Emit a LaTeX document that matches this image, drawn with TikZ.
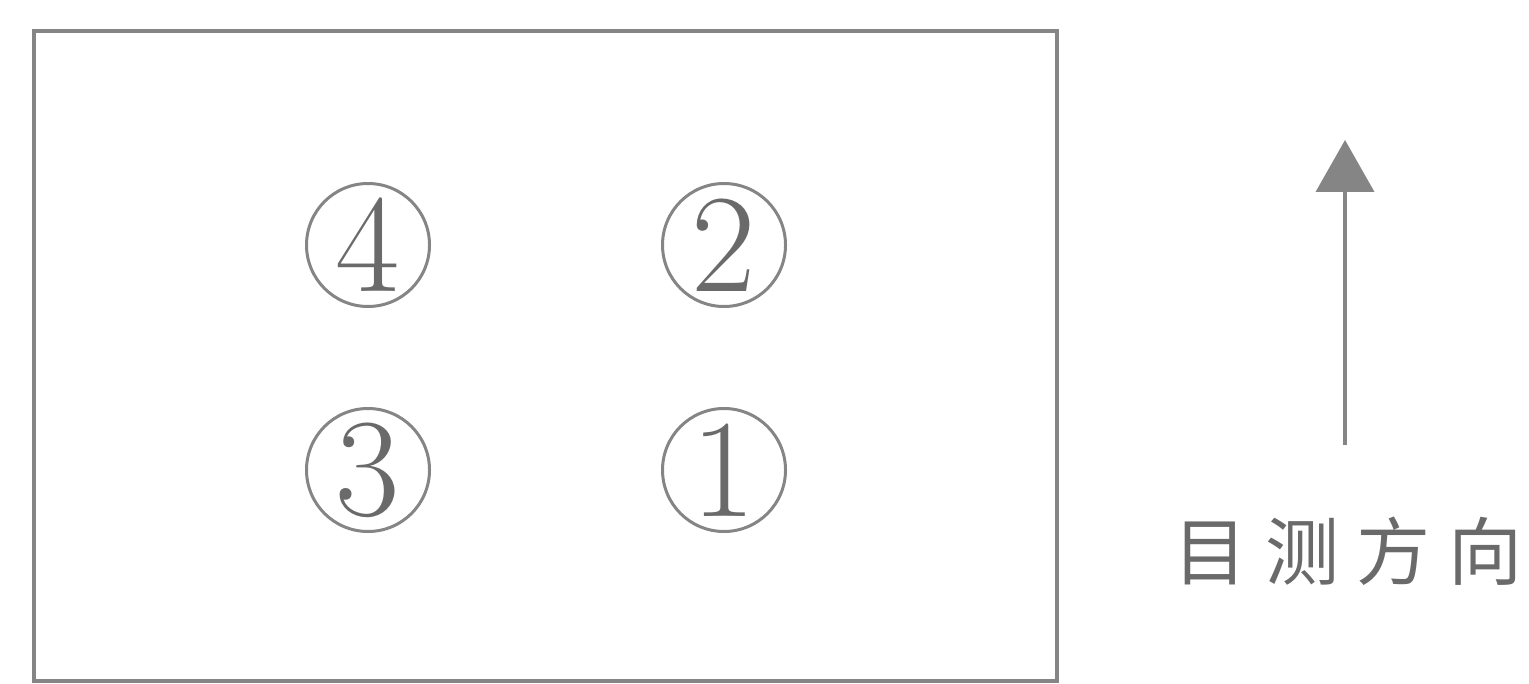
\documentclass[tikz,border=0pt]{standalone}
\usepackage{fontspec}
\newfontfamily\cjk{Noto Sans CJK SC}
\usetikzlibrary{arrows.meta}
\definecolor{linegray}{HTML}{858585}
\definecolor{textgray}{HTML}{6A6A6A}
\tikzset{
  frame/.style={draw=linegray, line width=2pt},
  cnum/.style={circle, draw=linegray, line width=1.5pt, minimum size=61.5pt, inner sep=0pt,
    text=textgray, font=\fontsize{70}{70}\selectfont},
  dirarrow/.style={draw=linegray, line width=2pt, -{Triangle[length=26pt,width=29pt]}},
  lbl/.style={text=textgray, font=\cjk\fontsize{37}{40}\selectfont, inner sep=0pt}
}
\begin{document}
\begin{tikzpicture}[x=0.5pt,y=-0.5pt]
\useasboundingbox (0,0) rectangle (1529,684);
\node[frame, minimum width=511.5pt, minimum height=325pt, inner sep=0pt] (box) at (545.5,356) {};
\node[cnum] (n4) at (368,245) {4};
\node[cnum] (n2) at (724,245) {2};
\node[cnum] (n3) at (368,470) {3};
\node[cnum] (n1) at (724,470) {1};
\coordinate (tail) at (1345,445);
\coordinate (tip) at (1345,140);
\draw[dirarrow] (tail) -- (tip);
\node[lbl] (label) at (1348,551) {目\hspace{9pt}测\hspace{9pt}方\hspace{9pt}向};
\end{tikzpicture}
\end{document}
